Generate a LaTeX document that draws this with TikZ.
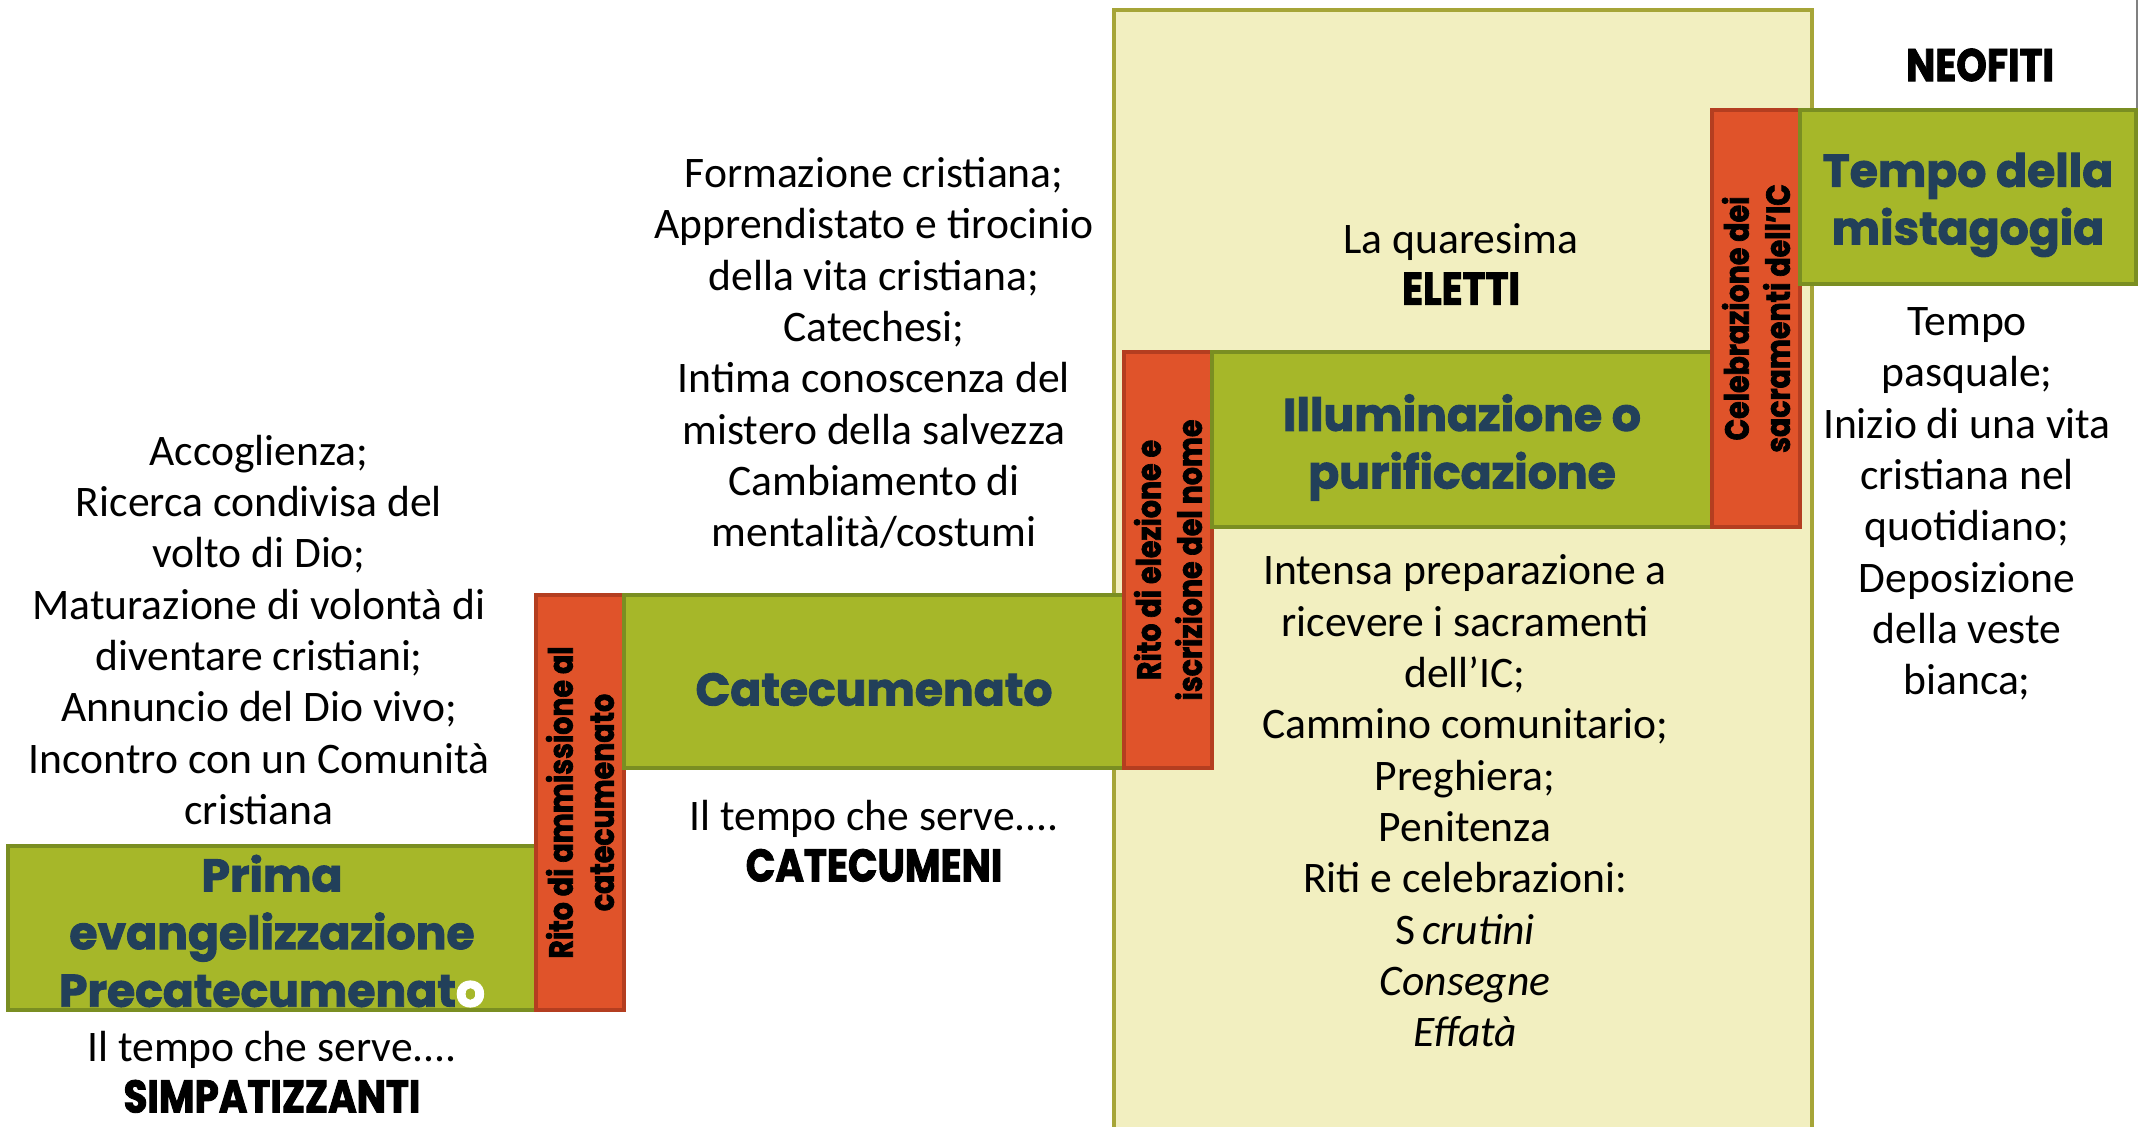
\documentclass[tikz,border=0pt]{standalone}
\usepackage{fontspec}
\setmainfont{Carlito}
\newfontfamily\headfont{Poppins}[BoldFeatures={FakeBold=2}]
\newfontfamily\heavyfont{Poppins}[FakeStretch=0.85, BoldFeatures={FakeBold=2}]
\usetikzlibrary{positioning}

\definecolor{phasegreen}{RGB}{166,183,41}
\definecolor{phaseedge}{RGB}{122,142,34}
\definecolor{riteorange}{RGB}{224,83,42}
\definecolor{riteedge}{RGB}{180,62,32}
\definecolor{lentfill}{RGB}{242,239,192}
\definecolor{lentedge}{RGB}{166,165,56}
\definecolor{titleblue}{RGB}{34,64,90}

\begin{document}
\begin{tikzpicture}[
  phase/.style={rectangle, draw=phaseedge, line width=1.2pt, fill=phasegreen, inner sep=0pt, outer sep=0pt},
  rite/.style={rectangle, draw=riteedge, line width=1.2pt, fill=riteorange, inner sep=0pt, outer sep=0pt, minimum width=0.88cm},
  title/.style={font=\headfont\bfseries\fontsize{13}{16.4}\selectfont, text=titleblue, align=center, yshift=-0.08cm},
  ritelabel/.style={font=\heavyfont\bfseries\fontsize{9.5}{11.7}\selectfont, rotate=90, align=center},
  body/.style={font=\fontsize{12.4}{14.6}\selectfont, align=center},
  tag/.style={font=\heavyfont\bfseries\fontsize{13}{14.6}\selectfont}
]
\useasboundingbox (0,0) rectangle (21.39,11.27);

% Lent column
\fill[lentfill] (11.14,-0.2) rectangle (18.12,11.17);
\draw[lentedge, line width=1.2pt] (11.14,-0.2) -- (11.14,11.17) -- (18.12,11.17) -- (18.12,-0.2);
\draw[gray, line width=0.6pt] (21.37,11.27) -- (21.37,10.17);

% Steps
\node[phase, minimum width=5.28cm, minimum height=1.64cm, anchor=south west] (p1) at (0.08,1.17) {};
\node[rite, minimum height=4.15cm, anchor=south west] (r1) at (p1.south east) {};
\node[phase, minimum width=5.0cm, minimum height=1.73cm, anchor=north west] (p2) at (r1.north east) {};
\node[rite, minimum height=4.16cm, anchor=south west] (r2) at (p2.south east) {};
\node[phase, minimum width=5.0cm, minimum height=1.75cm, anchor=north west] (p3) at (r2.north east) {};
\node[rite, minimum height=4.17cm, anchor=south west] (r3) at (p3.south east) {};
\node[phase, minimum width=3.36cm, minimum height=1.74cm, anchor=north west] (p4) at (r3.north east) {};

% Names of the times
\node[title, yshift=0.05cm] (n1) at (p1) {Prima\\evangelizzazione\\Precatecumenat{\color{white}o}};
\node[title] (n2) at (p2) {Catecumenato};
\node[title] (n3) at (p3) {Illuminazione o\\purificazione};
\node[title] (n4) at (p4) {Tempo della\\mistagogia};

% Rites
\node[ritelabel] (l1) at (r1) {Rito di ammissione al\\catecumenato};
\node[ritelabel] (l2) at (r2) {Rito di elezione e\\iscrizione del nome};
\node[ritelabel] (l3) at (r3) {Celebrazione dei\\sacramenti dell’IC};

% Texts of each time
\node[body] (t1) at (2.59,4.97) {Accoglienza;\\Ricerca condivisa del\\volto di Dio;\\Maturazione di volontà di\\diventare cristiani;\\Annuncio del Dio vivo;\\Incontro con un Comunità\\cristiana};
\node[body] (t2) at (8.74,7.74) {Formazione cristiana;\\Apprendistato e tirocinio\\della vita cristiana;\\Catechesi;\\Intima conoscenza del\\mistero della salvezza\\Cambiamento di\\mentalità/costumi};
\node[body] (t3) at (14.65,3.26) {Intensa preparazione a\\ricevere i sacramenti\\dell’IC;\\Cammino comunitario;\\Preghiera;\\Penitenza\\Riti e celebrazioni:\\S\,\textit{crutini}\\\textit{Consegne}\\\textit{Effatà}};
\node[body] (t4) at (19.67,6.23) {Tempo\\pasquale;\\Inizio di una vita\\cristiana nel\\quotidiano;\\Deposizione\\della veste\\bianca;};

% Who walks
\node[body, below=0.085cm of p1] (c1) {Il tempo che serve....\\{\heavyfont\bfseries\fontsize{13}{14.6}\selectfont SIMPATIZZANTI}};
\node[body, below=0.195cm of p2] (c2) {Il tempo che serve....\\{\heavyfont\bfseries\fontsize{13}{14.6}\selectfont CATECUMENI}};
\node[body] (c3) at (14.61,8.63) {La quaresima\\{\heavyfont\bfseries\fontsize{13}{14.6}\selectfont ELETTI}};
\node[tag] (c4) at (19.80,10.62) {NEOFITI};

\end{tikzpicture}
\end{document}
